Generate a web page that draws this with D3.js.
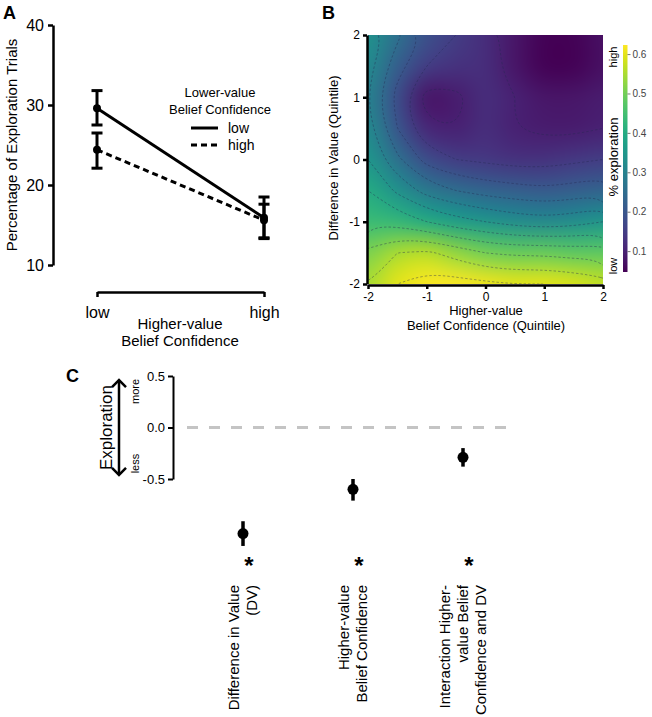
<!DOCTYPE html>
<html><head><meta charset="utf-8">
<script src="https://cdn.jsdelivr.net/npm/d3@7"></script>
<style>
body{margin:0;background:#fff}
svg{display:block;font-family:"Liberation Sans",Arial,Helvetica,sans-serif}
</style>
</head><body>
<svg id="fig" width="652" height="717"></svg>
<script>
// ---------------- Panel A data ----------------
const aXCategories = ["low", "high"];          // Higher-value belief confidence
const aSeriesNames = ["low", "high"];          // Lower-value belief confidence
const aMeanLow  = [29.6, 15.9];
const aLowerLow = [27.5, 13.3];
const aUpperLow = [31.8, 18.5];
const aMeanHigh  = [24.4, 15.6];
const aLowerHigh = [22.1, 13.4];
const aUpperHigh = [26.5, 17.6];
const aYTicks = [10, 20, 30, 40];

// ---------------- Panel B data ----------------
const bTicks = [-2, -1, 0, 1, 2];
const bGridX = [-2, -1.5, -1, -0.5, 0, 0.5, 1, 1.5, 2];
const bGridY = [2, 1.5, 1, 0.5, 0, -0.5, -1, -1.5, -2];
const bRowP20 = [0.34, 0.26, 0.19, 0.15, 0.12, 0.08, 0.05, 0.05, 0.07];
const bRowP15 = [0.32, 0.22, 0.15, 0.13, 0.12, 0.08, 0.05, 0.05, 0.07];
const bRowP10 = [0.30, 0.18, 0.08, 0.09, 0.12, 0.10, 0.08, 0.08, 0.09];
const bRowP05 = [0.32, 0.20, 0.11, 0.10, 0.12, 0.10, 0.09, 0.09, 0.10];
const bRowZ00 = [0.35, 0.26, 0.18, 0.15, 0.14, 0.13, 0.13, 0.14, 0.15];
const bRowM05 = [0.40, 0.34, 0.28, 0.25, 0.23, 0.22, 0.21, 0.22, 0.23];
const bRowM10 = [0.44, 0.43, 0.40, 0.37, 0.35, 0.33, 0.32, 0.33, 0.35];
const bRowM15 = [0.51, 0.55, 0.56, 0.53, 0.50, 0.49, 0.49, 0.48, 0.48];
const bRowM20 = [0.55, 0.60, 0.62, 0.62, 0.61, 0.60, 0.60, 0.59, 0.57];
const bColorDomain = [0.047, 0.623];
const bColorTicks = [0.1, 0.2, 0.3, 0.4, 0.5, 0.6];
const bContourLevels = [0.1, 0.15, 0.2, 0.25, 0.3, 0.35, 0.4, 0.45, 0.5, 0.55, 0.6];

// ---------------- Panel C data ----------------
const cCategories = [
  ["Difference in Value", "(DV)"],
  ["Higher-value", "Belief Confidence"],
  ["Interaction Higher-", "value Belief", "Confidence and DV"]
];
const cEstimate = [-1.03, -0.60, -0.29];
const cLower    = [-1.15, -0.71, -0.38];
const cUpper    = [-0.91, -0.50, -0.20];
const cSignificant = [true, true, true];
const cYTicks = [-0.5, 0, 0.5];

// ======================================================
const svg = d3.select("#fig");
const fmtMinus = f => d => f(d).replace("\u2212", "-");

function styleAxis(g, w, fs, fill) {
  g.select(".domain").attr("stroke", "#000").attr("stroke-width", w);
  g.selectAll(".tick line").attr("stroke", "#000").attr("stroke-width", w);
  g.selectAll(".tick text").attr("font-size", fs).attr("fill", fill || "#000")
    .attr("font-family", "Liberation Sans, Arial, sans-serif");
}

// ---------------- Panel A ----------------
{
  const g = svg.append("g");
  const x = d3.scalePoint().domain(aXCategories).range([97, 264]);
  const y = d3.scaleLinear().domain([10, 40]).range([265, 25]);

  g.append("text").attr("x", 3).attr("y", 19).attr("font-size", 18)
    .attr("font-weight", "bold").text("A");

  const ya = g.append("g").attr("transform", "translate(53,0)")
    .call(d3.axisLeft(y).tickValues(aYTicks).tickSize(5).tickSizeOuter(0).tickPadding(4));
  styleAxis(ya, 2.5, 16);

  const xa = g.append("g").attr("transform", "translate(0,292)")
    .call(d3.axisBottom(x).tickSize(5).tickSizeOuter(0).tickPadding(6));
  styleAxis(xa, 2.5, 16);
  xa.selectAll(".tick text").attr("dy", "0.95em");

  g.append("text").attr("transform", "translate(17,145) rotate(-90)")
    .attr("text-anchor", "middle").attr("font-size", 15)
    .text("Percentage of Exploration Trials");
  g.append("text").attr("x", 180).attr("y", 329).attr("text-anchor", "middle")
    .attr("font-size", 15).text("Higher-value");
  g.append("text").attr("x", 180).attr("y", 346).attr("text-anchor", "middle")
    .attr("font-size", 15).text("Belief Confidence");

  const series = [
    {name: aSeriesNames[0], mean: aMeanLow, lo: aLowerLow, hi: aUpperLow, dash: null},
    {name: aSeriesNames[1], mean: aMeanHigh, lo: aLowerHigh, hi: aUpperHigh, dash: "6,4"}
  ];
  const line = d3.line().x((d, i) => x(aXCategories[i])).y(d => y(d));
  series.forEach(s => {
    g.append("path").attr("d", line(s.mean)).attr("fill", "none")
      .attr("stroke", "#000").attr("stroke-width", 3)
      .attr("stroke-dasharray", s.dash);
    aXCategories.forEach((c, i) => {
      const cx = x(c);
      g.append("line").attr("x1", cx).attr("x2", cx)
        .attr("y1", y(s.lo[i])).attr("y2", y(s.hi[i]))
        .attr("stroke", "#000").attr("stroke-width", 3);
      [s.lo[i], s.hi[i]].forEach(v => {
        g.append("line").attr("x1", cx - 5.5).attr("x2", cx + 5.5)
          .attr("y1", y(v)).attr("y2", y(v))
          .attr("stroke", "#000").attr("stroke-width", 3);
      });
      g.append("circle").attr("cx", cx).attr("cy", y(s.mean[i])).attr("r", 4).attr("fill", "#000");
    });
  });

  // legend
  const lg = g.append("g");
  lg.append("text").attr("x", 220).attr("y", 97).attr("text-anchor", "middle")
    .attr("font-size", 13).text("Lower-value");
  lg.append("text").attr("x", 220).attr("y", 114).attr("text-anchor", "middle")
    .attr("font-size", 13).text("Belief Confidence");
  series.forEach((s, i) => {
    const ly = 128 + i * 17;
    lg.append("line").attr("x1", 191).attr("x2", 218).attr("y1", ly).attr("y2", ly)
      .attr("stroke", "#000").attr("stroke-width", 3).attr("stroke-dasharray", s.dash);
    lg.append("text").attr("x", 228).attr("y", ly + 5).attr("font-size", 14).text(s.name);
  });
}

// ---------------- Panel B ----------------
{
  const g = svg.append("g");
  const x = d3.scaleLinear().domain([-2, 2]).range([368, 603]);
  const y = d3.scaleLinear().domain([-2, 2]).range([284, 35]);
  const color = d3.scaleSequential(d3.interpolateViridis).domain(bColorDomain);

  g.append("text").attr("x", 322).attr("y", 19).attr("font-size", 18)
    .attr("font-weight", "bold").text("B");

  const defs = svg.append("defs");
  defs.append("clipPath").attr("id", "hmclip").append("rect")
    .attr("x", x(-2)).attr("y", y(2)).attr("width", x(2) - x(-2)).attr("height", y(-2) - y(2));

  const rows = [bRowP20, bRowP15, bRowP10, bRowP05, bRowZ00, bRowM05, bRowM10, bRowM15, bRowM20];
  const grid = rows.flat();
  const nx = bGridX.length, ny = bGridY.length;
  const sx = bGridX[1] - bGridX[0], sy = bGridY[1] - bGridY[0];
  const gx = c => x(bGridX[0] + (c - 0.5) * sx);
  const gy = c => y(bGridY[0] + (c - 0.5) * sy);

  // smooth heat map: one pixel per grid cell (edges repeated), upscaled with smoothing
  const small = document.createElement("canvas");
  small.width = nx + 2; small.height = ny + 2;
  const sctx = small.getContext("2d");
  const id = sctx.createImageData(nx + 2, ny + 2);
  const clamp = (v, n) => Math.max(0, Math.min(n - 1, v));
  for (let j = 0; j < ny + 2; j++) for (let i = 0; i < nx + 2; i++) {
    const c = d3.rgb(color(rows[clamp(j - 1, ny)][clamp(i - 1, nx)]));
    const k = 4 * (j * (nx + 2) + i);
    id.data[k] = c.r; id.data[k + 1] = c.g; id.data[k + 2] = c.b; id.data[k + 3] = 255;
  }
  sctx.putImageData(id, 0, 0);
  const W = Math.round(x(2) - x(-2)), H = Math.round(y(-2) - y(2));
  const SC = 2;
  const big = document.createElement("canvas");
  big.width = W * SC; big.height = H * SC;
  const bctx = big.getContext("2d");
  bctx.imageSmoothingEnabled = true;
  bctx.imageSmoothingQuality = "high";
  const cw = (x(bGridX[1]) - x(bGridX[0])) * SC, ch = (y(bGridY[1]) - y(bGridY[0])) * SC;
  bctx.drawImage(small, -1.5 * cw, -1.5 * ch, (nx + 2) * cw, (ny + 2) * ch);

  const hm = g.append("g").attr("clip-path", "url(#hmclip)");
  hm.append("image").attr("x", x(-2)).attr("y", y(2)).attr("width", W).attr("height", H)
    .attr("preserveAspectRatio", "none").attr("href", big.toDataURL());

  // dashed contour lines
  const lineGen = d3.line().curve(d3.curveBasisClosed);
  const lines = d3.contours().size([nx, ny]).thresholds(bContourLevels)(grid);
  lines.forEach(c => {
    c.coordinates.forEach(poly => poly.forEach(ring => {
      const pts = ring.slice(0, -1).map(p => [gx(p[0]), gy(p[1])]);
      hm.append("path").attr("d", lineGen(pts)).attr("fill", "none")
        .attr("stroke", "rgba(35,40,80,0.5)").attr("stroke-width", 0.8)
        .attr("stroke-dasharray", "2.5,2");
    }));
  });

  const ya = g.append("g").attr("transform", "translate(367,0)")
    .call(d3.axisLeft(y).tickValues(bTicks).tickSize(4).tickSizeOuter(0).tickPadding(3)
      .tickFormat(fmtMinus(d3.format("d"))));
  styleAxis(ya, 2.5, 12);
  const xa = g.append("g").attr("transform", "translate(0,285)")
    .call(d3.axisBottom(x).tickValues(bTicks).tickSize(4).tickSizeOuter(0).tickPadding(3)
      .tickFormat(fmtMinus(d3.format("d"))));
  styleAxis(xa, 2.5, 12);

  g.append("text").attr("transform", "translate(338,158) rotate(-90)")
    .attr("text-anchor", "middle").attr("font-size", 13)
    .text("Difference in Value (Quintile)");
  g.append("text").attr("x", 486).attr("y", 315).attr("text-anchor", "middle")
    .attr("font-size", 13).text("Higher-value");
  g.append("text").attr("x", 486).attr("y", 330).attr("text-anchor", "middle")
    .attr("font-size", 13).text("Belief Confidence (Quintile)");

  // colour bar
  const cb = d3.scaleLinear().domain(bColorDomain).range([272, 45]);
  const grad = defs.append("linearGradient").attr("id", "cbgrad")
    .attr("x1", 0).attr("x2", 0).attr("y1", 1).attr("y2", 0);
  d3.range(0, 1.0001, 0.05).forEach(t => {
    grad.append("stop").attr("offset", t)
      .attr("stop-color", color(bColorDomain[0] + t * (bColorDomain[1] - bColorDomain[0])));
  });
  g.append("rect").attr("x", 623).attr("y", cb(bColorDomain[1])).attr("width", 4.5)
    .attr("height", cb(bColorDomain[0]) - cb(bColorDomain[1])).attr("fill", "url(#cbgrad)");
  const ca = g.append("g").attr("transform", "translate(627.5,0)")
    .call(d3.axisRight(cb).tickValues(bColorTicks).tickSize(3).tickPadding(2)
      .tickFormat(d3.format(".1f")));
  ca.select(".domain").remove();
  ca.selectAll(".tick line").attr("stroke", "#555").attr("stroke-width", 0.8);
  ca.selectAll(".tick text").attr("font-size", 10).attr("fill", "#444")
    .attr("font-family", "Liberation Sans, Arial, sans-serif");

  g.append("text").attr("transform", "translate(617,57) rotate(-90)")
    .attr("text-anchor", "middle").attr("font-size", 11).text("high");
  g.append("text").attr("transform", "translate(617,266) rotate(-90)")
    .attr("text-anchor", "middle").attr("font-size", 11).text("low");
  g.append("text").attr("transform", "translate(618,157) rotate(-90)")
    .attr("text-anchor", "middle").attr("font-size", 13).text("% exploration");
}

// ---------------- Panel C ----------------
{
  const g = svg.append("g");
  const keys = cCategories.map((c, i) => i);
  const x = d3.scalePoint().domain(keys).range([243, 463]);
  const y = d3.scaleLinear().domain([-0.5, 0.5]).range([479, 376]);

  g.append("text").attr("x", 66).attr("y", 382).attr("font-size", 18)
    .attr("font-weight", "bold").text("C");

  const ya = g.append("g").attr("transform", "translate(173,0)")
    .call(d3.axisLeft(y).tickValues(cYTicks).tickSize(5).tickSizeOuter(0).tickPadding(3)
      .tickFormat(fmtMinus(d3.format(".1f"))));
  styleAxis(ya, 2, 13);

  g.append("line").attr("x1", 187).attr("x2", 513).attr("y1", y(0)).attr("y2", y(0))
    .attr("stroke", "#c4c4c4").attr("stroke-width", 3).attr("stroke-dasharray", "11,11");

  // exploration arrow
  const ax = 119, aTop = y(0.46), aBot = y(-0.46);
  g.append("line").attr("x1", ax).attr("x2", ax).attr("y1", aTop + 1).attr("y2", aBot - 1)
    .attr("stroke", "#000").attr("stroke-width", 2.5);
  g.append("path").attr("d", `M${ax - 7},${aTop + 7}L${ax},${aTop}L${ax + 7},${aTop + 7}`)
    .attr("fill", "none").attr("stroke", "#000").attr("stroke-width", 2.5);
  g.append("path").attr("d", `M${ax - 7},${aBot - 7}L${ax},${aBot}L${ax + 7},${aBot - 7}`)
    .attr("fill", "none").attr("stroke", "#000").attr("stroke-width", 2.5);
  g.append("text").attr("transform", `translate(112,${y(0)}) rotate(-90)`)
    .attr("text-anchor", "middle").attr("font-size", 17).text("Exploration");
  g.append("text").attr("transform", `translate(139,${y(0.35)}) rotate(-90)`)
    .attr("text-anchor", "middle").attr("font-size", 11).text("more");
  g.append("text").attr("transform", `translate(139,${y(-0.35)}) rotate(-90)`)
    .attr("text-anchor", "middle").attr("font-size", 11).text("less");

  keys.forEach(i => {
    const cx = x(i);
    g.append("line").attr("x1", cx).attr("x2", cx).attr("y1", y(cLower[i])).attr("y2", y(cUpper[i]))
      .attr("stroke", "#000").attr("stroke-width", 3.5);
    g.append("circle").attr("cx", cx).attr("cy", y(cEstimate[i])).attr("r", 5.5).attr("fill", "#000");
    if (cSignificant[i]) {
      g.append("text").attr("x", cx + 6).attr("y", 574).attr("text-anchor", "middle")
        .attr("font-size", 24).attr("font-weight", "bold").text("*");
    }
    const linesTxt = cCategories[i];
    const n = linesTxt.length;
    linesTxt.forEach((t, k) => {
      const bx = cx + 5 + (k - (n - 1) / 2) * 18;
      g.append("text").attr("transform", `translate(${bx},585) rotate(-90)`)
        .attr("text-anchor", "end").attr("font-size", 15).text(t);
    });
  });
}
</script>
</body></html>
